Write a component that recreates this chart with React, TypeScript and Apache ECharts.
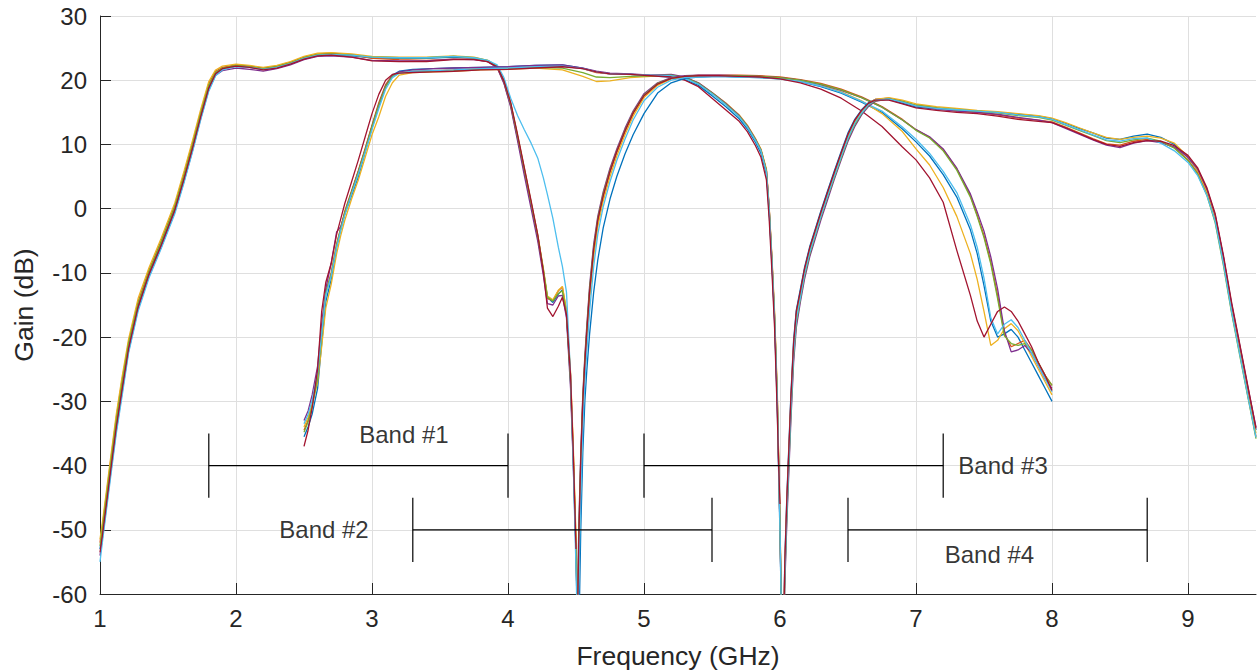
import React, { useEffect, useRef } from 'react';
import * as echarts from 'echarts';

// MATLAB default colour order: blue, orange, yellow, purple, green, cyan, red
const traceColors = ['#0072BD', '#D95319', '#EDB120', '#7E2F8E', '#77AC30', '#4DBEEE', '#A2142F'];
const traceNames = ['Trace 1', 'Trace 2', 'Trace 3', 'Trace 4', 'Trace 5', 'Trace 6', 'Trace 7'];

// ---------- Band #1 filter (GHz / dB) ----------
const band1Freq = [1.00, 1.02, 1.05, 1.08, 1.12, 1.16, 1.21, 1.28, 1.36, 1.45, 1.55, 1.62, 1.68, 1.74, 1.80, 1.85, 1.90, 2.00, 2.10, 2.20, 2.30, 2.40, 2.50, 2.60, 2.70, 2.85, 3.00, 3.20, 3.40, 3.60, 3.75, 3.85, 3.92, 3.97, 4.02, 4.07, 4.12, 4.17, 4.22, 4.26, 4.29, 4.33, 4.37, 4.40, 4.43, 4.46, 4.48, 4.50, 4.52];
const band1Blue = [-53, -50, -45, -40, -33.5, -28, -21.5, -15, -10, -5.5, 0, 5, 9.6, 14.5, 19, 21.1, 21.8, 22.2, 22.0, 21.7, 22.0, 22.6, 23.4, 23.9, 24.0, 23.8, 23.5, 23.4, 23.4, 23.6, 23.4, 23.0, 22.1, 19.8, 16.2, 11.2, 6.0, 0.8, -4.5, -9.6, -13.8, -14.6, -13.3, -12.6, -16.5, -27, -39, -53, -75];
const band1Orange = [-52, -49, -44, -39, -32.5, -27, -20.8, -14.5, -9.6, -5, 0.5, 5.6, 10.2, 15, 19.5, 21.4, 22.0, 22.4, 22.2, 21.9, 22.2, 22.8, 23.6, 24.1, 24.2, 24.0, 23.4, 23.2, 23.1, 23.3, 23.3, 22.9, 22.0, 19.6, 16.0, 11.0, 5.8, 0.6, -4.7, -9.8, -14.0, -14.3, -12.8, -12.2, -16.0, -26, -38, -52, -75];
const band1Yellow = [-51.5, -48.5, -43.5, -38.5, -32, -26.5, -20.3, -14, -9.2, -4.6, 0.9, 6, 10.6, 15.4, 19.8, 21.6, 22.2, 22.5, 22.3, 22.0, 22.3, 22.9, 23.7, 24.2, 24.3, 24.1, 23.7, 23.6, 23.6, 23.8, 23.6, 23.1, 22.2, 19.9, 16.4, 11.4, 6.3, 1.0, -4.2, -9.3, -13.6, -14.2, -12.7, -12.1, -15.8, -25.5, -37, -51, -75];
const band1Purple = [-54, -51, -46, -41, -34.5, -29, -22.2, -15.6, -10.5, -6, -0.5, 4.4, 9.0, 14, 18.5, 20.8, 21.5, 21.9, 21.7, 21.4, 21.8, 22.4, 23.2, 23.7, 23.8, 23.6, 23.1, 23.0, 23.0, 23.3, 23.2, 22.9, 22.0, 19.5, 15.8, 10.6, 5.2, 0, -5.2, -10.4, -14.8, -15.0, -13.6, -13.5, -17, -28, -40, -54, -75];
const band1Green = [-52.5, -49.5, -44.5, -39.5, -33, -27.5, -21, -14.8, -9.8, -5.2, 0.3, 5.3, 9.9, 14.8, 19.2, 21.2, 21.9, 22.3, 22.1, 21.8, 22.1, 22.7, 23.5, 24.0, 24.1, 23.9, 23.6, 23.5, 23.5, 23.7, 23.5, 23.1, 22.2, 19.9, 16.3, 11.3, 6.1, 0.9, -4.4, -9.5, -13.8, -14.4, -13.2, -12.8, -16.2, -27, -39, -53, -75];
const band1Cyan = [-55, -51.5, -46.5, -41.5, -35, -29.5, -22.5, -16, -10.8, -6.2, -0.8, 4.2, 8.8, 13.8, 18.3, 20.7, 21.6, 22.1, 22.0, 21.7, 22.0, 22.6, 23.4, 23.9, 24.0, 23.9, 23.6, 23.5, 23.5, 23.7, 23.5, 23.1, 22.4, 20.4, 17.2, 14.5, 12.3, 10.2, 7.8, 4.8, 2.2, -1.5, -6, -9, -13, -26, -40, -56, -75];
const band1Red = [-53.5, -50.5, -45.5, -40.5, -34, -28.5, -21.8, -15.3, -10.2, -5.7, -0.2, 4.8, 9.4, 14.3, 18.8, 21.0, 21.8, 22.2, 22.0, 21.6, 21.9, 22.5, 23.3, 23.8, 23.9, 23.6, 23.0, 22.9, 22.9, 23.2, 23.2, 22.9, 22.1, 19.9, 16.5, 11.6, 6.4, 1.2, -4.2, -9.8, -15.5, -16.8, -15.2, -13.8, -16.5, -26, -38, -53];

// ---------- Band #2 filter ----------
const band2Freq = [2.50, 2.53, 2.56, 2.60, 2.63, 2.66, 2.70, 2.74, 2.77, 2.80, 2.85, 2.90, 2.95, 3.00, 3.05, 3.10, 3.15, 3.20, 3.30, 3.45, 3.60, 3.80, 4.00, 4.20, 4.40, 4.55, 4.65, 4.75, 4.90, 5.05, 5.20, 5.30, 5.40, 5.50, 5.60, 5.70, 5.76, 5.82, 5.86, 5.90, 5.92, 5.94, 5.96, 5.98, 5.99, 6.00, 6.02];
const band2Blue = [-35.5, -34, -32, -28, -21, -14.5, -11, -6, -3.2, -0.8, 2.0, 5.0, 8.8, 12.6, 16.0, 19.0, 20.8, 21.4, 21.7, 21.8, 21.9, 22.0, 22.1, 22.3, 22.4, 21.9, 21.3, 21.0, 20.9, 20.7, 20.5, 20.1, 19.2, 17.6, 15.9, 14.0, 12.4, 10.3, 8.6, 5.4, -0.5, -8.5, -17.5, -31, -41, -51, -75];
const band2Orange = [-34.5, -33, -30.5, -26, -19, -13, -10, -5.5, -3, -0.4, 2.8, 6, 9.4, 13, 16.5, 19.3, 20.8, 21.2, 21.4, 21.5, 21.6, 21.8, 21.9, 22.1, 22.2, 21.8, 21.2, 21.0, 20.9, 20.8, 20.8, 20.4, 19.5, 18.0, 16.4, 14.5, 12.9, 10.8, 9.2, 6.0, 0.3, -7.5, -16.5, -29, -39, -49, -75];
const band2Yellow = [-34, -32.5, -30.5, -27, -21.5, -15.5, -11.8, -7, -4.2, -1.8, 1.5, 4.5, 8.0, 11.5, 14.3, 17.5, 19.6, 20.8, 21.2, 21.3, 21.4, 21.6, 21.7, 21.9, 21.6, 20.6, 19.8, 19.9, 20.4, 20.6, 20.7, 20.4, 19.6, 18.1, 16.5, 14.6, 13.0, 10.9, 9.3, 6.2, 0.5, -7.2, -16, -28.5, -38.5, -48.5, -75];
const band2Purple = [-33, -31.5, -29, -24.5, -18, -12.5, -8.5, -3.6, -2.8, -0.8, 2.6, 5.8, 9.2, 12.8, 16.2, 19.1, 20.7, 21.3, 21.6, 21.8, 21.9, 22.0, 22.1, 22.3, 22.4, 21.9, 21.4, 21.1, 21.0, 20.8, 20.9, 20.5, 19.6, 18.1, 16.4, 14.5, 12.9, 10.8, 9.1, 5.9, 0.2, -7.8, -17, -30, -40, -50, -75];
const band2Green = [-34.8, -33.2, -30.8, -26.5, -19.5, -13.2, -10.2, -5.6, -3.1, -0.6, 2.6, 5.8, 9.2, 12.8, 16.2, 19.0, 20.6, 21.1, 21.3, 21.4, 21.5, 21.7, 21.8, 22.0, 21.9, 21.2, 20.5, 20.4, 20.6, 20.7, 20.8, 20.4, 19.5, 18.0, 16.3, 14.4, 12.8, 10.7, 9.1, 5.9, 0.1, -7.8, -16.8, -29.5, -39.5, -49.5, -75];
const band2Cyan = [-33.5, -32, -29.8, -25.5, -19.5, -13.5, -10.5, -6, -3.4, -1.0, 2.3, 5.4, 8.8, 12.3, 15.6, 18.6, 20.4, 21.1, 21.4, 21.5, 21.6, 21.8, 21.9, 22.1, 22.2, 21.8, 21.3, 21.0, 20.9, 20.8, 20.7, 20.3, 19.4, 17.9, 16.2, 14.3, 12.7, 10.6, 9.0, 5.7, 0, -8, -17, -30, -40, -50, -75];
const band2Red = [-37, -34.5, -31, -25, -16, -11.5, -8.5, -4, -1.6, 0.8, 4.2, 7.6, 11.2, 14.8, 17.8, 20.0, 20.9, 21.1, 21.2, 21.3, 21.4, 21.6, 21.7, 21.9, 22.1, 21.8, 21.3, 21.0, 20.9, 20.7, 20.5, 20.0, 19.0, 17.2, 15.4, 13.6, 12.0, 9.8, 8.0, 4.5, -1.5, -9.5, -18.5, -32, -40, -46];

// ---------- Band #3 filter ----------
const band3Freq = [4.51, 4.52, 4.535, 4.55, 4.565, 4.58, 4.60, 4.63, 4.66, 4.70, 4.75, 4.80, 4.86, 4.92, 5.00, 5.10, 5.20, 5.30, 5.40, 5.55, 5.70, 5.85, 6.00, 6.15, 6.30, 6.45, 6.60, 6.75, 6.90, 7.00, 7.10, 7.20, 7.30, 7.40, 7.45, 7.50, 7.55, 7.60, 7.65, 7.70, 7.75, 7.80, 7.85, 7.90, 7.95, 8.00];
const band3Blue = [-80, -68, -50, -38, -30, -25, -19.5, -13, -8, -3, 1.5, 5, 8.5, 11.5, 14.8, 18, 19.6, 20.3, 20.5, 20.6, 20.5, 20.4, 20.2, 19.8, 19.0, 18.0, 16.6, 15.0, 12.4, 10.4, 8.2, 5.3, 1.8, -3.3, -7, -12, -17.5, -20, -19.5, -18.8, -20, -22, -24, -26, -28, -30];
const band3Orange = [-68, -53, -40, -30.5, -24, -19, -13, -6.5, -2, 1.9, 5.7, 8.8, 12, 14.8, 17.6, 19.4, 20.3, 20.6, 20.8, 20.8, 20.8, 20.7, 20.5, 20.1, 19.5, 18.6, 17.4, 15.9, 13.9, 12.3, 11.1, 9.2, 6.2, 2.0, -1, -4.2, -8.3, -13.5, -19.5, -21.5, -21, -20.5, -22, -24, -26, -27.5];
const band3Yellow = [-70, -55, -42, -32, -25, -20, -14, -7.5, -2.8, 1.2, 5, 8.2, 11.5, 14.4, 17.3, 19.2, 20.2, 20.5, 20.6, 20.6, 20.6, 20.5, 20.3, 19.9, 19.2, 18.2, 16.8, 14.8, 12.0, 9.3, 6.8, 3.3, -1.2, -7, -11, -16, -21.3, -20.5, -18.7, -17.9, -19, -21, -23, -25, -27, -29];
const band3Purple = [-65, -50, -38, -29, -23, -18, -12, -5.5, -1.2, 2.6, 6.3, 9.3, 12.5, 15.2, 17.9, 19.6, 20.4, 20.7, 20.8, 20.8, 20.7, 20.6, 20.4, 20.0, 19.3, 18.4, 17.3, 15.8, 13.8, 12.3, 11.2, 9.3, 6.3, 2.3, -0.5, -3.5, -7.5, -12.5, -19, -22.3, -22, -21.3, -22.5, -24.5, -26.5, -28];
const band3Green = [-66, -51, -39, -29.5, -23.5, -18.5, -12.5, -6, -1.6, 2.3, 6, 9, 12.2, 15, 17.7, 19.5, 20.3, 20.6, 20.7, 20.7, 20.7, 20.6, 20.4, 20.0, 19.4, 18.5, 17.3, 15.8, 13.8, 12.2, 11.0, 9.0, 6.0, 1.8, -1.2, -4.5, -8.6, -14, -19.8, -21, -21.3, -21, -22, -24, -26, -27.5];
const band3Cyan = [-72, -58, -45, -34, -27, -22, -16, -9, -4, 0.3, 4.2, 7.5, 10.8, 13.8, 16.8, 18.9, 20.0, 20.4, 20.5, 20.6, 20.5, 20.4, 20.2, 19.8, 19.1, 18.1, 16.7, 15.2, 12.7, 10.8, 8.6, 5.8, 2.5, -2.5, -6, -10.8, -17, -19.5, -18, -17.3, -18.5, -20.5, -22.5, -24.5, -26.5, -28.5];
const band3Red = [-67, -52, -39, -30, -24, -19, -13, -6.3, -1.8, 2.0, 5.8, 8.9, 12.1, 14.9, 17.6, 19.4, 20.3, 20.6, 20.7, 20.7, 20.6, 20.5, 20.2, 19.6, 18.6, 17.2, 15.2, 12.8, 9.6, 7.6, 4.8, 1.0, -6.5, -13.5, -17.5, -20, -18, -16, -15.3, -16, -17.5, -19.5, -21.5, -24, -26, -28.3];

// ---------- Band #4 filter ----------
const band4Freq = [6.02, 6.035, 6.05, 6.065, 6.08, 6.10, 6.12, 6.15, 6.18, 6.22, 6.26, 6.30, 6.35, 6.40, 6.45, 6.50, 6.55, 6.60, 6.65, 6.70, 6.80, 6.90, 7.00, 7.15, 7.30, 7.45, 7.60, 7.75, 7.90, 8.00, 8.10, 8.20, 8.30, 8.40, 8.50, 8.60, 8.70, 8.80, 8.90, 9.00, 9.07, 9.14, 9.20, 9.26, 9.32, 9.38, 9.44, 9.50];
const band4Blue = [-75, -55, -45, -37, -29, -20.5, -15.8, -12.5, -9.2, -5.8, -3.1, -0.4, 2.8, 5.9, 8.9, 11.8, 13.9, 15.4, 16.5, 17.0, 17.0, 16.4, 15.8, 15.5, 15.3, 15.1, 15.0, 14.7, 14.4, 14.0, 13.3, 12.5, 11.8, 11.0, 10.8, 11.3, 11.6, 11.1, 10.0, 8.0, 6.0, 2.8, -1.2, -7.5, -15, -21.5, -28, -34.5];
const band4Orange = [-75, -56, -46, -38, -30, -21.5, -16.5, -13, -9.6, -6.2, -3.5, -0.8, 2.4, 5.5, 8.5, 11.4, 13.6, 15.2, 16.4, 17.0, 17.2, 16.7, 16.1, 15.7, 15.2, 15.0, 14.6, 14.1, 13.8, 13.5, 12.7, 11.8, 10.9, 10.1, 9.9, 10.5, 10.8, 10.4, 9.5, 7.6, 5.6, 2.3, -1.8, -8.3, -15.8, -22.3, -29, -35.5];
const band4Yellow = [-75, -57, -47, -39, -31, -22, -17, -13.5, -10, -6.5, -3.8, -1, 2.2, 5.3, 8.3, 11.2, 13.4, 15.0, 16.3, 17.0, 17.3, 16.9, 16.3, 15.9, 15.6, 15.3, 15.1, 14.8, 14.5, 14.1, 13.4, 12.6, 11.8, 11.1, 10.8, 11.1, 11.3, 11.0, 10.2, 8.1, 6.0, 2.6, -1.5, -8, -15.4, -22, -28.6, -35];
const band4Purple = [-75, -59, -49, -41, -33, -24, -18.5, -14.5, -11, -7.4, -4.6, -1.8, 1.4, 4.6, 7.6, 10.5, 12.8, 14.6, 15.9, 16.7, 17.1, 16.6, 16.0, 15.5, 15.2, 15.0, 14.7, 14.2, 13.8, 13.4, 12.5, 11.6, 10.7, 9.9, 9.5, 10.2, 10.6, 10.3, 9.6, 8.0, 6.2, 3.0, -1.0, -7.5, -14.8, -21.2, -27.8, -34];
const band4Green = [-75, -58, -48, -40, -32, -23, -17.8, -14, -10.5, -7, -4.2, -1.4, 1.8, 4.9, 7.9, 10.8, 13.1, 14.8, 16.1, 16.8, 17.1, 16.7, 16.1, 15.7, 15.4, 15.2, 14.9, 14.5, 14.2, 13.8, 13.0, 12.2, 11.4, 10.6, 10.3, 10.7, 11.0, 10.5, 9.4, 7.5, 5.4, 2.0, -2.2, -8.8, -16.2, -22.8, -29.3, -35.8];
const band4Cyan = [-75, -57.5, -47.5, -39.5, -31.5, -22.5, -17.3, -13.8, -10.2, -6.7, -4, -1.2, 2.0, 5.1, 8.1, 11.0, 13.3, 14.9, 16.2, 16.9, 17.1, 16.6, 16.0, 15.6, 15.4, 15.2, 15.0, 14.6, 14.3, 13.9, 13.1, 12.3, 11.5, 10.7, 10.5, 10.9, 11.0, 10.2, 9.0, 7.2, 5.2, 2.0, -2.0, -8.5, -16, -22.6, -29.2, -35.6];
const band4Red = [-75, -55.5, -45.5, -37.5, -29.5, -21, -16, -12.8, -9.4, -6, -3.3, -0.6, 2.6, 5.7, 8.7, 11.6, 13.8, 15.3, 16.4, 16.9, 16.9, 16.3, 15.7, 15.3, 15.0, 14.8, 14.4, 13.9, 13.6, 13.4, 12.6, 11.7, 10.8, 10.0, 9.7, 10.3, 10.6, 10.5, 9.8, 8.3, 6.4, 3.2, -0.8, -7.2, -14.5, -21, -27.6, -34.2];

const band1Traces = [band1Blue, band1Orange, band1Yellow, band1Purple, band1Green, band1Cyan, band1Red];
const band2Traces = [band2Blue, band2Orange, band2Yellow, band2Purple, band2Green, band2Cyan, band2Red];
const band3Traces = [band3Blue, band3Orange, band3Yellow, band3Purple, band3Green, band3Cyan, band3Red];
const band4Traces = [band4Blue, band4Orange, band4Yellow, band4Purple, band4Green, band4Cyan, band4Red];
const bandFreqs = [band1Freq, band2Freq, band3Freq, band4Freq];
const bandTraces = [band1Traces, band2Traces, band3Traces, band4Traces];

// ---------- Band range annotations ----------
const bandNames = ['Band #1', 'Band #2', 'Band #3', 'Band #4'];
const bandStart = [1.8, 3.3, 5.0, 6.5];
const bandEnd = [4.0, 5.5, 7.2, 8.7];
const bandLevel = [-40, -50, -40, -50];
const bandCapHalf = 5;
const bandLabelFreq = [3.235, 2.647, 7.64, 7.54];
const bandLabelGain = [-35.1, -50, -40, -53.9];

// ---------- Axes ----------
const xTicks = [1, 2, 3, 4, 5, 6, 7, 8, 9];
const xMin = 1;
const xMax = 9.5;
const yMin = -60;
const yMax = 30;
const yStep = 10;

const FONT = '"Liberation Sans", Arial, Helvetica, sans-serif';
const AXIS_COLOR = '#262626';

export default function App() {
  const ref = useRef<HTMLDivElement>(null);

  useEffect(() => {
    document.body.style.margin = '0';
    if (!ref.current) return;
    const chart = echarts.init(ref.current, undefined, { renderer: 'svg' });

    const series: any[] = [];
    bandTraces.forEach((traces, b) => {
      const freq = bandFreqs[b];
      traces.forEach((gains, t) => {
        series.push({
          type: 'line',
          name: `Band ${b + 1} ${traceNames[t]}`,
          data: gains.map((g, k) => [freq[k], g]),
          showSymbol: false,
          symbol: 'none',
          clip: true,
          lineStyle: { color: traceColors[t], width: 1.3 },
          itemStyle: { color: traceColors[t] },
          z: 2,
        });
      });
    });

    bandNames.forEach((name, i) => {
      const s = bandStart[i];
      const e = bandEnd[i];
      const l = bandLevel[i];
      const segs = [
        [[s, l + bandCapHalf], [s, l - bandCapHalf]],
        [[s, l], [e, l]],
        [[e, l + bandCapHalf], [e, l - bandCapHalf]],
      ];
      segs.forEach((seg, j) => {
        series.push({
          type: 'line',
          name: `${name} range ${j}`,
          data: seg,
          showSymbol: false,
          symbol: 'none',
          lineStyle: { color: '#000000', width: 1.2 },
          z: 3,
        });
      });
    });

    series.push({
      type: 'scatter',
      name: 'Band labels',
      symbolSize: 0,
      data: bandNames.map((n, i) => ({ name: n, value: [bandLabelFreq[i], bandLabelGain[i]] })),
      label: {
        show: true,
        position: 'inside',
        formatter: '{b}',
        fontSize: 24,
        color: '#000000',
        fontFamily: FONT,
      },
      z: 4,
    });

    chart.setOption({
      animation: false,
      backgroundColor: '#ffffff',
      grid: { left: 100, right: 1, top: 16, bottom: 76, containLabel: false, outerBoundsMode: 'none' },
      xAxis: {
        type: 'value',
        min: xMin,
        max: xMax,
        interval: 1,
        name: 'Frequency (GHz)',
        nameLocation: 'middle',
        nameGap: 48,
        nameTextStyle: { fontSize: 26.5, color: AXIS_COLOR, fontFamily: FONT },
        axisLine: { show: true, onZero: false, lineStyle: { color: AXIS_COLOR, width: 1 } },
        axisTick: { show: true, inside: true, length: 11, customValues: xTicks, lineStyle: { color: AXIS_COLOR } },
        axisLabel: {
          margin: 12,
          fontSize: 24,
          color: AXIS_COLOR,
          fontFamily: FONT,
          formatter: (v: number) => (xTicks.indexOf(v) >= 0 ? String(v) : ''),
        },
        splitLine: { show: true, lineStyle: { color: '#dfdfdf', width: 1 } },
      },
      yAxis: {
        type: 'value',
        min: yMin,
        max: yMax,
        interval: yStep,
        name: 'Gain (dB)',
        nameLocation: 'middle',
        nameGap: 63,
        nameRotate: 90,
        nameTextStyle: { fontSize: 26.5, color: AXIS_COLOR, fontFamily: FONT },
        axisLine: { show: true, onZero: false, lineStyle: { color: AXIS_COLOR, width: 1 } },
        axisTick: { show: true, inside: true, length: 11, lineStyle: { color: AXIS_COLOR } },
        axisLabel: { margin: 13, fontSize: 24, color: AXIS_COLOR, fontFamily: FONT },
        splitLine: { show: true, lineStyle: { color: '#dfdfdf', width: 1 } },
      },
      series,
    });

    return () => chart.dispose();
  }, []);

  return <div ref={ref} style={{ width: 1257, height: 670 }} />;
}
